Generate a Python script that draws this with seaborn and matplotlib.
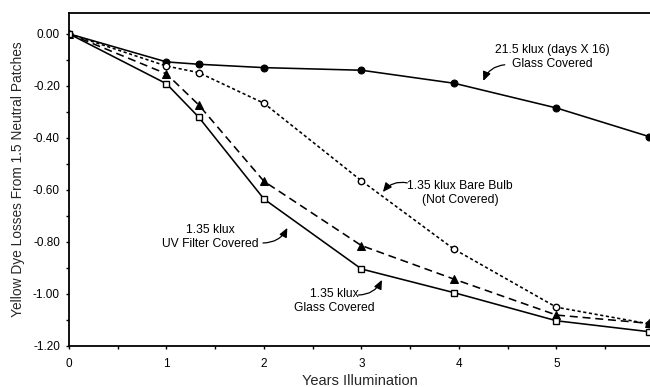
import matplotlib
matplotlib.use("Agg")
import matplotlib.pyplot as plt
from matplotlib.ticker import MultipleLocator, FormatStrFormatter
import seaborn as sns
import pandas as pd

# Exposure time (years) for each measurement
years = [0, 1, 1.33, 2, 3, 3.95, 5, 5.95]

# Yellow dye density losses per exposure condition
glass_21_5 = [0.00, -0.108, -0.117, -0.130, -0.140, -0.190, -0.285, -0.395]
bare_bulb_1_35 = [0.00, -0.124, -0.149, -0.267, -0.565, -0.828, -1.051, -1.115]
uv_filter_1_35 = [0.00, -0.154, -0.273, -0.567, -0.814, -0.943, -1.081, -1.113]
glass_1_35 = [0.00, -0.192, -0.320, -0.635, -0.904, -0.995, -1.103, -1.145]

y_ticks = [0.00, -0.20, -0.40, -0.60, -0.80, -1.00, -1.20]
x_ticks = [0, 1, 2, 3, 4, 5]

sns.set_theme(style="ticks")
plt.rcParams["font.family"] = ["Liberation Sans", "DejaVu Sans"]

fig = plt.figure(figsize=(6.5, 3.87), dpi=100)
ax = fig.add_axes([69 / 650, 1 - 346 / 387, 1 - 69 / 650, (346 - 13) / 387])

df = pd.DataFrame({
    "years": years,
    "glass_21_5": glass_21_5,
    "bare_bulb": bare_bulb_1_35,
    "uv_filter": uv_filter_1_35,
    "glass_1_35": glass_1_35,
})

lw = 1.15
sns.lineplot(data=df, x="years", y="glass_21_5", ax=ax, color="black", lw=lw,
             marker="o", ms=5, mfc="black", mec="black", ls="-")
sns.lineplot(data=df, x="years", y="bare_bulb", ax=ax, color="black", lw=lw,
             marker="o", ms=4.6, mfc="white", mec="black", mew=1.0)
sns.lineplot(data=df, x="years", y="uv_filter", ax=ax, color="black", lw=lw,
             marker="^", ms=5.5, mfc="black", mec="black")
sns.lineplot(data=df, x="years", y="glass_1_35", ax=ax, color="black", lw=lw,
             marker="s", ms=5, mfc="white", mec="black", mew=1.0)

lines = ax.get_lines()
lines[1].set_dashes((2.0, 1.6))
lines[2].set_dashes((5.0, 3.0))

ax.set_xlim(0, 5.96)
ax.set_ylim(-1.2, 0.08)
ax.set_xticks(x_ticks)
ax.set_yticks(y_ticks)
ax.yaxis.set_major_formatter(FormatStrFormatter("%.2f"))
ax.xaxis.set_minor_locator(MultipleLocator(0.5))
ax.yaxis.set_minor_locator(MultipleLocator(0.1))
ax.tick_params(axis="both", which="both", direction="out", length=2.5,
               width=1.0, color="black", labelsize=8.5, labelcolor="black")
ax.tick_params(axis="y", pad=4)
ax.tick_params(axis="x", pad=6)

for side in ["left", "bottom", "top"]:
    ax.spines[side].set_visible(True)
    ax.spines[side].set_linewidth(1.3)
    ax.spines[side].set_color("black")
ax.spines["right"].set_visible(False)

ax.set_xlabel("Years Illumination", fontsize=10.5, labelpad=3)
ax.set_ylabel("Yellow Dye Losses From 1.5 Neutral Patches", fontsize=9.9, labelpad=6)

ann = dict(fontsize=8.7, ha="center", va="center", color="black", linespacing=1.2)
arrow = dict(arrowstyle="-|>,head_length=0.45,head_width=0.2", color="black", lw=0.9,
             shrinkA=0, shrinkB=0)

ax.text(4.96, -0.088, "21.5 klux (days X 16)\nGlass Covered", **ann)
ax.annotate("", xy=(4.25, -0.181), xytext=(4.47, -0.119),
            arrowprops=dict(connectionstyle="arc3,rad=0.3", **arrow))

ax.text(4.01, -0.612, "1.35 klux Bare Bulb\n(Not Covered)", **ann)
ax.annotate("", xy=(3.22, -0.608), xytext=(3.47, -0.573),
            arrowprops=dict(connectionstyle="arc3,rad=0.3", **arrow))

ax.text(1.45, -0.78, "1.35 klux\nUV Filter Covered", **ann)
ax.annotate("", xy=(2.24, -0.746), xytext=(1.99, -0.804),
            arrowprops=dict(connectionstyle="arc3,rad=0.3", **arrow))

ax.text(2.72, -1.027, "1.35 klux\nGlass Covered", **ann)
ax.annotate("", xy=(3.21, -0.946), xytext=(2.97, -1.004),
            arrowprops=dict(connectionstyle="arc3,rad=0.3", **arrow))

fig.savefig("out.png", dpi=100)
